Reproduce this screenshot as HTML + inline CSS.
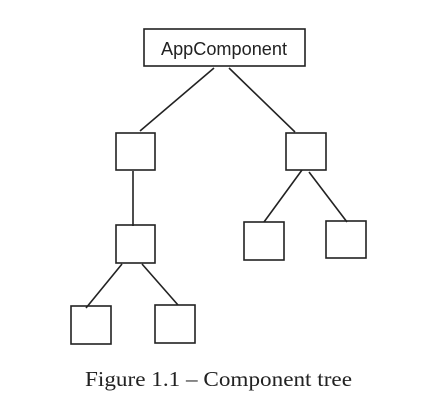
<!DOCTYPE html>
<html><head><meta charset="utf-8"><style>
html,body{margin:0;padding:0;background:#fff;}
svg{display:block;}
</style></head><body>
<svg width="440" height="405" viewBox="0 0 440 405">
<g stroke="#222" stroke-width="1.6" fill="none">
<rect x="144" y="29" width="161" height="37" fill="#fff"/>
<line x1="214" y1="68" x2="140" y2="131"/>
<line x1="229" y1="68" x2="295" y2="132"/>
<line x1="133" y1="171" x2="133" y2="226"/>
<line x1="302" y1="170" x2="264" y2="222"/>
<line x1="309" y1="172" x2="347" y2="222"/>
<line x1="122" y1="264" x2="86" y2="308"/>
<line x1="142" y1="264" x2="178" y2="305"/>
<rect x="116" y="133" width="39" height="37"/>
<rect x="286" y="133" width="40" height="37"/>
<rect x="116" y="225" width="39" height="38"/>
<rect x="244" y="222" width="40" height="38"/>
<rect x="326" y="221" width="40" height="37"/>
<rect x="71" y="306" width="40" height="38"/>
<rect x="155" y="305" width="40" height="38"/>
</g>
<text x="161" y="55" font-family="Liberation Sans, sans-serif" font-size="18" fill="#222" textLength="126" lengthAdjust="spacingAndGlyphs">AppComponent</text>
<text x="85" y="386" font-family="Liberation Serif, serif" font-size="21" fill="#222" textLength="267" lengthAdjust="spacingAndGlyphs">Figure 1.1 – Component tree</text>
</svg>
</body></html>
